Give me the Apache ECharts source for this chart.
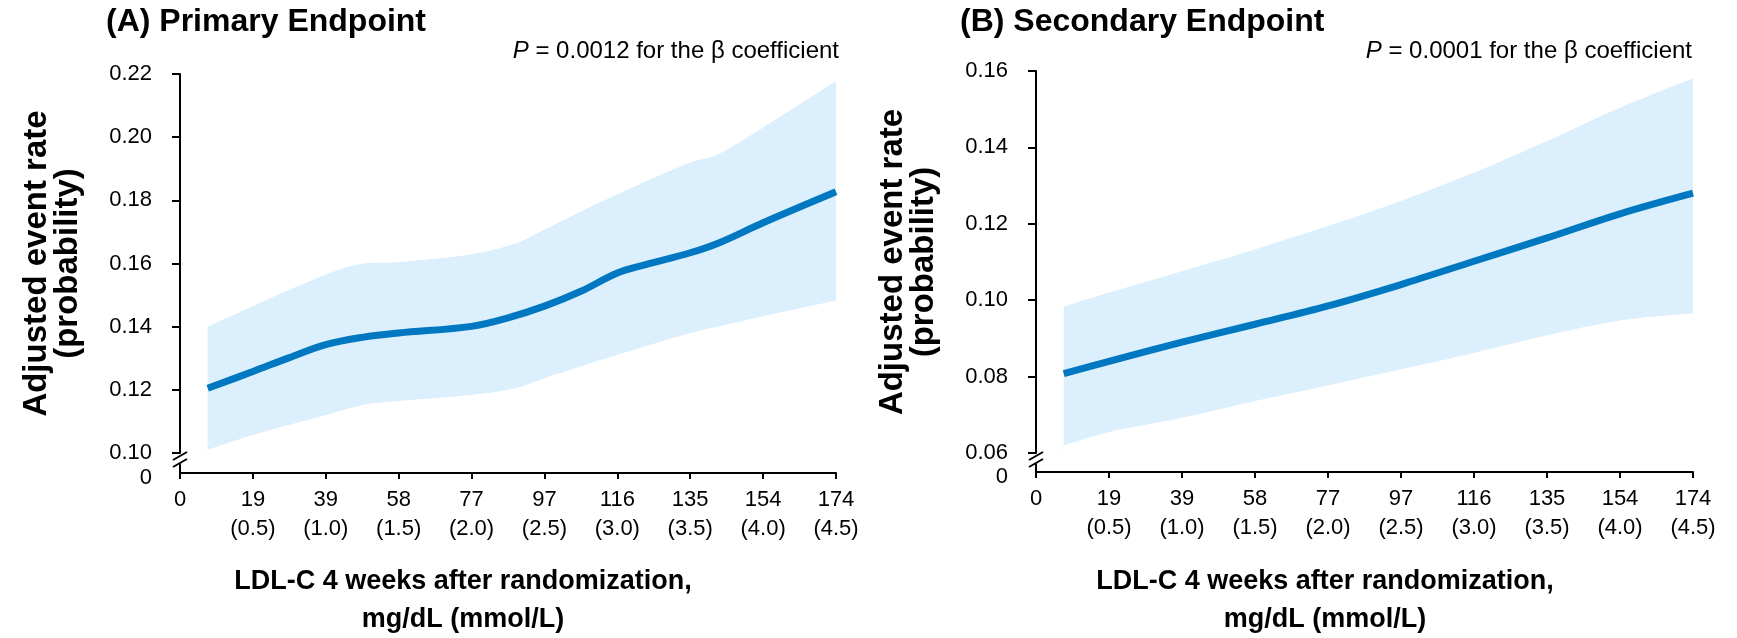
<!DOCTYPE html>
<html><head><meta charset="utf-8">
<script src="https://cdn.jsdelivr.net/npm/echarts@6/dist/echarts.min.js"></script>
<style>html,body{margin:0;padding:0;background:#fff}#c{width:1737px;height:638px}</style>
</head><body><div id="c"></div>
<script>
// ---- tick labels (x axis: mg/dL with mmol/L beneath; axis scale is in mmol/L) ----
const mgLabels   = ['0','19','39','58','77','97','116','135','154','174'];
const mmolLabels = ['','(0.5)','(1.0)','(1.5)','(2.0)','(2.5)','(3.0)','(3.5)','(4.0)','(4.5)'];

// ---- Panel A: Primary endpoint ----
const aLineX = [0.19, 0.5, 0.75, 1.0, 1.25, 1.5, 2.0, 2.25, 2.5, 2.75, 3.0, 3.2, 3.5, 3.7, 4.0, 4.5];
const aLineY = [0.1205, 0.1258, 0.1302, 0.1343, 0.1366, 0.1380, 0.1401, 0.1428, 0.1465, 0.1512, 0.1570, 0.1597, 0.1634, 0.1666, 0.1729, 0.1827];
const aBandX = [0.19, 0.5, 1.0, 1.26, 1.5, 2.0, 2.3, 2.5, 3.0, 3.5, 3.67, 4.0, 4.5];
const aUpper = [0.140, 0.1465, 0.1565, 0.1600, 0.1604, 0.1629, 0.1663, 0.1708, 0.1819, 0.1920, 0.1941, 0.2031, 0.2177];
const aLower = [0.101, 0.1057, 0.1120, 0.1153, 0.1165, 0.1184, 0.1205, 0.1237, 0.1311, 0.1380, 0.1398, 0.1433, 0.1483];

// ---- Panel B: Secondary endpoint ----
const bLineX = [0.19, 0.5, 1.0, 1.5, 2.0, 2.5, 3.0, 3.5, 4.0, 4.5];
const bLineY = [0.0808, 0.0840, 0.0890, 0.0937, 0.0985, 0.1041, 0.1102, 0.1163, 0.1226, 0.1280];
const bBandX = [0.19, 0.5, 1.0, 1.5, 2.0, 2.5, 3.0, 3.5, 4.0, 4.5];
const bUpper = [0.0983, 0.1020, 0.1076, 0.1133, 0.1194, 0.1260, 0.1334, 0.1417, 0.1504, 0.1581];
const bLower = [0.0620, 0.0655, 0.0692, 0.0736, 0.0777, 0.0819, 0.0862, 0.0908, 0.0947, 0.0965];

const titles = ['(A) Primary Endpoint', '(B) Secondary Endpoint'];
const pTexts = ['0.0012', '0.0001'];
const yTitle = 'Adjusted event rate\n(probability)';
const xTitle = 'LDL-C 4 weeks after randomization,\nmg/dL (mmol/L)';

const LINE = '#0077c1', BAND = '#dbeffc';
const FONT = '"Liberation Sans", Arial, Helvetica, sans-serif';

const zip = (xs, ys) => xs.map((x, i) => [x, ys[i]]);

function xAxis(gi, off) {
  return {
    gridIndex: gi, type: 'value', min: 0, max: 4.5, interval: 0.5, offset: off,
    axisLine: { show: true, onZero: false, lineStyle: { color: '#000', width: 2 } },
    axisTick: { show: true, length: 6, lineStyle: { color: '#000', width: 2 } },
    splitLine: { show: false },
    axisLabel: {
      color: '#000', fontFamily: FONT, fontSize: 22, lineHeight: 29, margin: 12,
      formatter: v => { const i = Math.round(v / 0.5); return i === 0 ? mgLabels[0] : mgLabels[i] + '\n' + mmolLabels[i]; }
    }
  };
}
function yAxis(gi, mn, mx) {
  return {
    gridIndex: gi, type: 'value', min: mn, max: mx, interval: 0.02,
    axisLine: { show: true, lineStyle: { color: '#000', width: 2 } },
    axisTick: { show: true, length: 8, lineStyle: { color: '#000', width: 2 } },
    splitLine: { show: false },
    axisLabel: { color: '#000', fontFamily: FONT, fontSize: 22, margin: 28, padding: [6, 0, 0, 0], formatter: v => v.toFixed(2) },
    name: yTitle, nameLocation: 'middle', nameRotate: 90, nameGap: 97,
    nameTextStyle: { color: '#000', fontFamily: FONT, fontSize: 33, fontWeight: 'bold', lineHeight: 31 }
  };
}
// band = light-blue area under the upper limit, masked with white under the lower limit
function bandSeries(gi, bx, up, lo, lx, ly) {
  return [
    { type: 'line', xAxisIndex: gi, yAxisIndex: gi, data: zip(bx, up), symbol: 'none', smooth: 0.3,
      lineStyle: { width: 0, opacity: 0 }, areaStyle: { color: BAND, opacity: 1, origin: 'start' }, silent: true, z: 1 },
    { type: 'line', xAxisIndex: gi, yAxisIndex: gi, data: zip(bx, lo), symbol: 'none', smooth: 0.3,
      lineStyle: { width: 0, opacity: 0 }, areaStyle: { color: '#ffffff', opacity: 1, origin: 'start' }, silent: true, z: 2 },
    { type: 'line', xAxisIndex: gi, yAxisIndex: gi, data: zip(lx, ly), symbol: 'none', smooth: 0.35,
      lineStyle: { color: LINE, width: 7, cap: 'butt' }, z: 3 }
  ];
}

const TT = { fontFamily: FONT, fontSize: 32, fontWeight: 'bold', color: '#000' };
const PT = { fontFamily: FONT, fontSize: 24, fontWeight: 'normal', color: '#000',
  rich: { i: { fontStyle: 'italic', fontFamily: FONT, fontSize: 24, color: '#000' } } };
const XT = { fontFamily: FONT, fontSize: 27, fontWeight: 'bold', color: '#000', lineHeight: 38 };

const chart = echarts.init(document.getElementById('c'), null, { renderer: 'canvas' });
chart.setOption({
  animation: false,
  backgroundColor: '#fff',
  textStyle: { fontFamily: FONT },
  title: [
    { text: titles[0], left: 106, top: 6, padding: 0, textStyle: TT },
    { text: titles[1], left: 960, top: 6, padding: 0, textStyle: TT },
    { text: '{i|P} = ' + pTexts[0] + ' for the β coefficient', right: 898, top: 39, padding: 0, textStyle: PT },
    { text: '{i|P} = ' + pTexts[1] + ' for the β coefficient', right: 45, top: 39, padding: 0, textStyle: PT },
    { text: xTitle, left: 463, top: 563, padding: 0, textAlign: 'center', textStyle: XT },
    { text: xTitle, left: 1325, top: 563, padding: 0, textAlign: 'center', textStyle: XT }
  ],
  grid: [
    { left: 180, right: 901, top: 74, bottom: 185 },
    { left: 1036, right: 44, top: 71, bottom: 185 }
  ],
  xAxis: [xAxis(0, 20), xAxis(1, 19)],
  yAxis: [yAxis(0, 0.10, 0.22), yAxis(1, 0.06, 0.16)],
  series: [].concat(
    bandSeries(0, aBandX, aUpper, aLower, aLineX, aLineY),
    bandSeries(1, bBandX, bUpper, bLower, bLineX, bLineY)
  )
});

// axis-break decoration ("//" and the short stub down to the x axis, plus the 0 label)
function breakMarks(gi, yMin, off) {
  const p = chart.convertToPixel({ gridIndex: gi }, [0, yMin]);
  const ax = p[0], by = p[1], xy = by + off;
  const ls = { stroke: '#000', lineWidth: 2 };
  return [
    { type: 'line', shape: { x1: ax, y1: by + 10, x2: ax, y2: xy + 6 }, style: ls, z: 10 },
    { type: 'line', shape: { x1: ax - 7, y1: by + 7, x2: ax + 7, y2: by - 1 }, style: ls, z: 10 },
    { type: 'line', shape: { x1: ax - 7, y1: by + 14, x2: ax + 7, y2: by + 6 }, style: ls, z: 10 },
    { type: 'text', x: ax - 28, y: xy + 5, style: { text: '0', font: '22px ' + FONT, fill: '#000', align: 'right', verticalAlign: 'middle' }, z: 10 }
  ];
}
chart.setOption({ graphic: [].concat(breakMarks(0, 0.10, 20), breakMarks(1, 0.06, 19)) });
</script></body></html>
